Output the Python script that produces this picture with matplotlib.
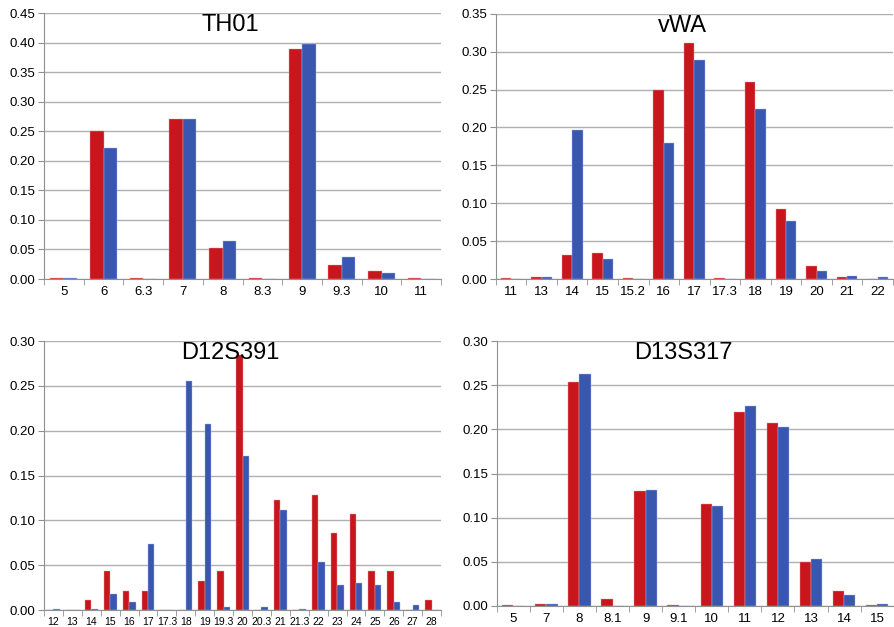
import matplotlib.pyplot as plt
import numpy as np

plt.rcParams['font.family'] = ['Liberation Sans', 'DejaVu Sans']

RED = '#C8161D'
BLUE = '#3A57B0'

th01_cats = ['5', '6', '6.3', '7', '8', '8.3', '9', '9.3', '10', '11']
th01_red = [0.001, 0.250, 0.001, 0.271, 0.052, 0.002, 0.389, 0.024, 0.013, 0.001]
th01_blue = [0.002, 0.222, 0.0, 0.271, 0.065, 0.0, 0.397, 0.038, 0.011, 0.0]

vwa_cats = ['11', '13', '14', '15', '15.2', '16', '17', '17.3', '18', '19', '20', '21', '22']
vwa_red = [0.001, 0.002, 0.032, 0.034, 0.001, 0.250, 0.311, 0.001, 0.260, 0.093, 0.017, 0.003, 0.0]
vwa_blue = [0.0, 0.002, 0.196, 0.027, 0.0, 0.180, 0.289, 0.0, 0.224, 0.076, 0.010, 0.004, 0.002]

d12_cats = ['12', '13', '14', '15', '16', '17', '17.3', '18', '19', '19.3', '20',
            '20.3', '21', '21.3', '22', '23', '24', '25', '26', '27', '28']
d12_red = [0.0, 0.0, 0.011, 0.043, 0.021, 0.021, 0.0, 0.0, 0.032, 0.043, 0.284,
           0.0, 0.123, 0.0, 0.128, 0.086, 0.107, 0.043, 0.043, 0.0, 0.011]
d12_blue = [0.001, 0.0, 0.001, 0.018, 0.009, 0.074, 0.0, 0.255, 0.207, 0.003, 0.172,
            0.003, 0.111, 0.001, 0.053, 0.028, 0.030, 0.028, 0.009, 0.006, 0.0]

d13_cats = ['5', '7', '8', '8.1', '9', '9.1', '10', '11', '12', '13', '14', '15']
d13_red = [0.001, 0.002, 0.254, 0.008, 0.130, 0.001, 0.115, 0.220, 0.207, 0.050, 0.017, 0.001]
d13_blue = [0.0, 0.002, 0.263, 0.0, 0.131, 0.0, 0.113, 0.226, 0.203, 0.053, 0.013, 0.002]


def draw_panel(ax, title, cats, red, blue, ymax, xfont=9.5):
    n = len(cats)
    x = np.arange(n)
    w = 0.34
    ax.bar(x - w / 2, red, width=w, color=RED, edgecolor='#e8a0a0', linewidth=0.3, zorder=3)
    ax.bar(x + w / 2, blue, width=w, color=BLUE, edgecolor='#a8b8e8', linewidth=0.3, zorder=3)
    ax.set_xlim(-0.5, n - 0.5)
    ax.set_ylim(0, ymax)
    yt = np.arange(0, ymax + 0.001, 0.05)
    ax.set_yticks(yt)
    ax.set_yticklabels(['%.2f' % v for v in yt], fontsize=9.5)
    ax.yaxis.grid(True, color='#b0b0b0', linewidth=1.0, zorder=0)
    ax.set_xticks(x)
    ax.set_xticklabels(cats, fontsize=xfont)
    ax.tick_params(axis='x', length=0, pad=5)
    ax.set_xticks(np.arange(n + 1) - 0.5, minor=True)
    ax.tick_params(axis='x', which='minor', length=4, color='#909090')
    ax.tick_params(axis='y', length=4, color='#909090', pad=2)
    for s in ['top', 'right']:
        ax.spines[s].set_visible(False)
    ax.spines['left'].set_color('#909090')
    ax.spines['bottom'].set_color('#909090')
    ax.set_axisbelow(True)
    ax.text(0.47, 0.995, title, transform=ax.transAxes, ha='center', va='top',
            fontsize=17, zorder=5)


fig = plt.figure(figsize=(8.95, 6.27), dpi=100)

ax1 = fig.add_axes([0.0492, 0.555, 0.4436, 0.424])
draw_panel(ax1, 'TH01', th01_cats, th01_red, th01_blue, 0.45)

ax2 = fig.add_axes([0.554, 0.555, 0.4436, 0.423])
draw_panel(ax2, 'vWA', vwa_cats, vwa_red, vwa_blue, 0.35)

ax3 = fig.add_axes([0.0492, 0.0271, 0.4436, 0.429])
draw_panel(ax3, 'D12S391', d12_cats, d12_red, d12_blue, 0.30, xfont=7.5)

ax4 = fig.add_axes([0.555, 0.0335, 0.4436, 0.4226])
draw_panel(ax4, 'D13S317', d13_cats, d13_red, d13_blue, 0.30)

fig.savefig('out.png', dpi=100)
